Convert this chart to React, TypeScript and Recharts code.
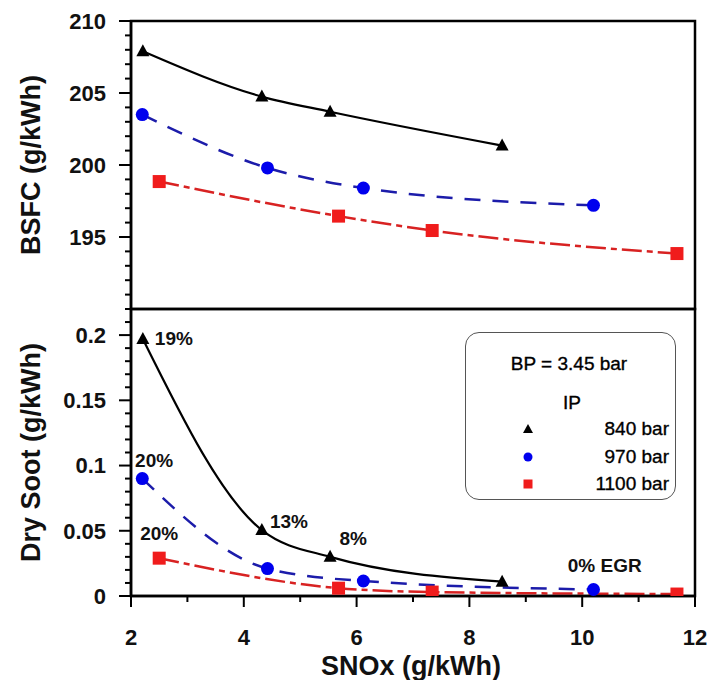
import React from "react";
import { LineChart, Line, XAxis, YAxis, ReferenceArea, ReferenceDot, Label } from "recharts";

// SNOx axis (shared)
const snoxTicks = [2, 3, 4, 5, 6, 7, 8, 9, 10, 11, 12];
const snoxMajor = [2, 4, 6, 8, 10, 12];

// BSFC panel
const bsfcTicks = [190, 191, 192, 193, 194, 195, 196, 197, 198, 199, 200, 201, 202, 203, 204, 205, 206, 207, 208, 209, 210];
const bsfcMajor = [195, 200, 205, 210];

// Dry soot panel
const sootTicks = [0, 0.01, 0.02, 0.03, 0.04, 0.05, 0.06, 0.07, 0.08, 0.09, 0.1, 0.11, 0.12, 0.13, 0.14, 0.15, 0.16, 0.17, 0.18, 0.19, 0.2, 0.21, 0.22];
const sootMajor = [0, 0.05, 0.1, 0.15, 0.2];

const bsfc840 = [
  { x: 2.21, y: 207.9 },
  { x: 4.32, y: 204.75 },
  { x: 5.53, y: 203.7 },
  { x: 8.58, y: 201.35 },
];
const bsfc970 = [
  { x: 2.2, y: 203.5 },
  { x: 4.42, y: 199.8 },
  { x: 6.12, y: 198.4 },
  { x: 10.2, y: 197.2 },
];
const bsfc1100 = [
  { x: 2.5, y: 198.85 },
  { x: 5.68, y: 196.45 },
  { x: 7.34, y: 195.45 },
  { x: 11.68, y: 193.85 },
];

const soot840 = [
  { x: 2.21, y: 0.197 },
  { x: 4.32, y: 0.0505 },
  { x: 5.53, y: 0.03 },
  { x: 8.58, y: 0.011 },
];
const soot970 = [
  { x: 2.2, y: 0.09 },
  { x: 4.42, y: 0.021 },
  { x: 6.12, y: 0.0115 },
  { x: 10.2, y: 0.005 },
];
const soot1100 = [
  { x: 2.5, y: 0.029 },
  { x: 5.68, y: 0.006 },
  { x: 7.34, y: 0.003 },
  { x: 11.68, y: 0.0015 },
];

const egrNotes = [
  { x: 2.76, y: 0.198, text: "19%" },
  { x: 2.41, y: 0.104, text: "20%" },
  { x: 4.8, y: 0.0575, text: "13%" },
  { x: 5.94, y: 0.0445, text: "8%" },
  { x: 2.5, y: 0.0483, text: "20%" },
  { x: 10.4, y: 0.024, text: "0% EGR" },
];

const FONT = "Arial, 'Liberation Sans', Helvetica, sans-serif";
const BLACK = "#000000";
const BLUE_LINE = "#1c1caa";
const BLUE_DOT = "#0000ee";
const RED_LINE = "#d82222";
const RED_DOT = "#f01c1c";

const W = 709;
const H = 680;
const Y_W = 131;
const MARGIN_R = 14;

const near = (a: number, list: number[]) => list.some((m) => Math.abs(m - a) < 1e-6);

const makeYTick = (majors: number[]) => (props: any) => {
  const { x, y, payload } = props;
  const major = near(payload.value, majors);
  return (
    <g>
      <line x1={x} y1={y} x2={x - (major ? 12 : 6)} y2={y} stroke="#000" strokeWidth={2} />
      {major ? (
        <text x={x - 25} y={y} dy="0.36em" textAnchor="end" fontFamily={FONT} fontSize={22} fontWeight="bold" fill="#111">
          {String(payload.value)}
        </text>
      ) : null}
    </g>
  );
};

const xTick = (props: any) => {
  const { x, y, payload } = props;
  const major = near(payload.value, snoxMajor);
  return (
    <g>
      <line x1={x} y1={y} x2={x} y2={y + (major ? 11 : 6)} stroke="#000" strokeWidth={2} />
      {major ? (
        <text x={x} y={y + 41} dy="0.36em" textAnchor="middle" fontFamily={FONT} fontSize={22} fontWeight="bold" fill="#111">
          {String(payload.value)}
        </text>
      ) : null}
    </g>
  );
};

const yTitle = (text: string) => (props: any) => {
  const vb = props.viewBox;
  const cx = vb.x + 30;
  const cy = vb.y + vb.height / 2;
  return (
    <text x={cx} y={cy} transform={`rotate(-90 ${cx} ${cy})`} textAnchor="middle" dy="0.36em" fontFamily={FONT} fontSize={27} fontWeight="bold" fill="#111">
      {text}
    </text>
  );
};

const xTitle = (props: any) => {
  const vb = props.viewBox;
  return (
    <text x={vb.x + vb.width / 2 - 2} y={vb.y + 69} textAnchor="middle" dy="0.36em" fontFamily={FONT} fontSize={27} fontWeight="bold" fill="#111">
      SNOx (g/kWh)
    </text>
  );
};

const triangleDot = (props: any) => {
  const { cx, cy, index } = props;
  return <polygon key={`t${index}`} points={`${cx},${cy - 7} ${cx - 6.5},${cy + 5} ${cx + 6.5},${cy + 5}`} fill={BLACK} />;
};
const circleDot = (props: any) => {
  const { cx, cy, index } = props;
  return <circle key={`c${index}`} cx={cx} cy={cy} r={6.5} fill={BLUE_DOT} />;
};
const squareDot = (props: any) => {
  const { cx, cy, index } = props;
  return <rect key={`s${index}`} x={cx - 6.5} y={cy - 6.5} width={13} height={13} fill={RED_DOT} />;
};

function LegendBox() {
  const txt: React.CSSProperties = { position: "absolute", fontSize: 19, lineHeight: "20px", WebkitTextStroke: "0.35px #000" };
  const rows = [
    { top: 86, label: "840 bar", mark: <polygon points="5,0 10,9 0,9" fill={BLACK} /> },
    { top: 114, label: "970 bar", mark: <circle cx={5} cy={5} r={4.5} fill={BLUE_DOT} /> },
    { top: 141, label: "1100 bar", mark: <rect x={0.5} y={0.5} width={9} height={9} fill={RED_DOT} /> },
  ];
  return (
    <div
      style={{
        position: "absolute",
        left: 465,
        top: 332,
        width: 209,
        height: 166,
        border: "1.5px solid #555",
        borderRadius: 14,
        fontFamily: FONT,
        color: "#000",
        background: "transparent",
      }}
    >
      <div style={{ ...txt, left: 0, width: 206, top: 21, textAlign: "center" }}>BP = 3.45 bar</div>
      <div style={{ ...txt, left: 97, top: 60 }}>IP</div>
      {rows.map((r) => (
        <React.Fragment key={r.label}>
          <svg width={10} height={10} style={{ position: "absolute", left: 57, top: r.top + 5 }}>
            {r.mark}
          </svg>
          <div style={{ ...txt, right: 6, top: r.top }}>{r.label}</div>
        </React.Fragment>
      ))}
    </div>
  );
}

export default function App() {
  return (
    <div style={{ position: "absolute", left: 0, top: 0, width: W, height: H, background: "#fff" }}>
      {/* top panel: BSFC */}
      <div style={{ position: "absolute", left: 0, top: 0 }}>
        <LineChart width={W} height={H} margin={{ top: 21, right: MARGIN_R, bottom: H - 309, left: 0 }}>
          <XAxis type="number" dataKey="x" domain={[2, 12]} ticks={snoxTicks} hide allowDataOverflow />
          <YAxis
            type="number"
            domain={[190, 210]}
            ticks={bsfcTicks}
            interval={0}
            width={Y_W}
            tickSize={0}
            tickMargin={0}
            tickLine={false}
            axisLine={{ stroke: "#000", strokeWidth: 2.5 }}
            tick={makeYTick(bsfcMajor)}
            allowDataOverflow
          >
            <Label content={yTitle("BSFC (g/kWh)")} />
          </YAxis>
          <ReferenceArea x1={2} x2={12} y1={190} y2={210} fill="none" fillOpacity={0} stroke="#000" strokeWidth={2.5} ifOverflow="visible" />
          <Line data={bsfc840} dataKey="y" type="monotone" stroke={BLACK} strokeWidth={2.2} dot={triangleDot} isAnimationActive={false} />
          <Line data={bsfc970} dataKey="y" type="monotone" stroke={BLUE_LINE} strokeWidth={2.5} strokeDasharray="16 12" dot={circleDot} isAnimationActive={false} />
          <Line data={bsfc1100} dataKey="y" type="monotone" stroke={RED_LINE} strokeWidth={2.5} strokeDasharray="20 5 6 5" dot={squareDot} isAnimationActive={false} />
        </LineChart>
      </div>

      {/* bottom panel: Dry soot */}
      <div style={{ position: "absolute", left: 0, top: 0 }}>
        <LineChart width={W} height={H} margin={{ top: 309, right: MARGIN_R, bottom: 0, left: 0 }}>
          <XAxis
            type="number"
            dataKey="x"
            domain={[2, 12]}
            ticks={snoxTicks}
            interval={0}
            height={H - 596}
            tickSize={0}
            tickMargin={0}
            tickLine={false}
            axisLine={{ stroke: "#000", strokeWidth: 2.5 }}
            tick={xTick}
            allowDataOverflow
          >
            <Label content={xTitle} />
          </XAxis>
          <YAxis
            type="number"
            domain={[0, 0.22]}
            ticks={sootTicks}
            interval={0}
            width={Y_W}
            tickSize={0}
            tickMargin={0}
            tickLine={false}
            axisLine={{ stroke: "#000", strokeWidth: 2.5 }}
            tick={makeYTick(sootMajor)}
            allowDataOverflow
          >
            <Label content={yTitle("Dry Soot (g/kWh)")} />
          </YAxis>
          <ReferenceArea x1={2} x2={12} y1={0} y2={0.22} fill="none" fillOpacity={0} stroke="#000" strokeWidth={2.5} ifOverflow="visible" />
          <Line data={soot840} dataKey="y" type="monotone" stroke={BLACK} strokeWidth={2.2} dot={triangleDot} isAnimationActive={false} />
          <Line data={soot970} dataKey="y" type="monotone" stroke={BLUE_LINE} strokeWidth={2.5} strokeDasharray="16 12" dot={circleDot} isAnimationActive={false} />
          <Line data={soot1100} dataKey="y" type="monotone" stroke={RED_LINE} strokeWidth={2.5} strokeDasharray="20 5 6 5" dot={squareDot} isAnimationActive={false} />
          {egrNotes.map((n) => (
            <ReferenceDot
              key={n.text + n.x}
              x={n.x}
              y={n.y}
              r={1}
              ifOverflow="visible"
              shape={(p: any) => (
                <text x={p.cx} y={p.cy} dy="0.36em" textAnchor="middle" fontFamily={FONT} fontSize={19} fontWeight="bold" fill="#111">
                  {n.text}
                </text>
              )}
            />
          ))}
        </LineChart>
      </div>

      <LegendBox />
    </div>
  );
}
